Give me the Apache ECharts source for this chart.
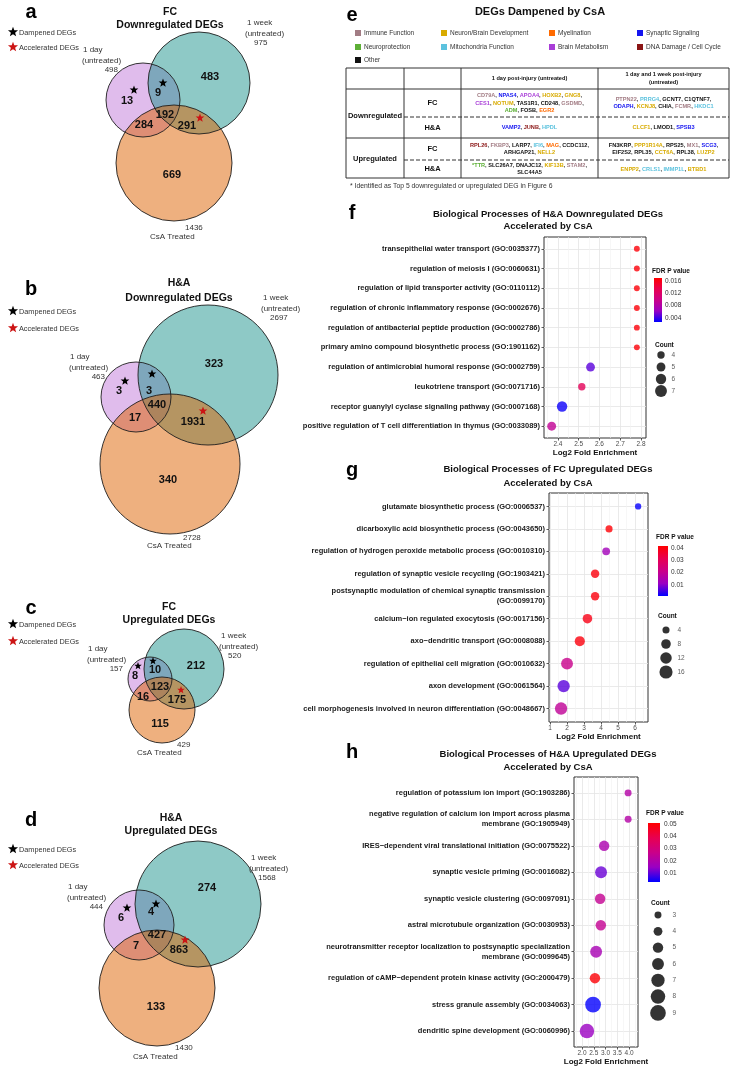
<!DOCTYPE html>
<html><head><meta charset="utf-8">
<script src="https://cdn.jsdelivr.net/npm/echarts@6.0.0/dist/echarts.min.js"></script>
<style>html,body{margin:0;padding:0;background:#fff;}#chart{width:734px;height:1070px;}</style>
</head><body><div id="chart"></div>
<script>
const FF = '"Liberation Sans", Arial, Helvetica, sans-serif';

/* ================= DATA ================= */
/* Venn panels a-d */
const vennLetters = ['a','b','c','d'];
const vennTissue = ['FC','H&A','FC','H&A'];
const vennDirection = ['Downregulated DEGs','Downregulated DEGs','Upregulated DEGs','Upregulated DEGs'];
const totalDay  = [498, 463, 157, 444];
const totalWeek = [975, 2697, 520, 1568];
const totalCsA  = [1436, 2728, 429, 1430];
const onlyDay    = [13, 3, 8, 6];
const dayAndWeek = [9, 3, 10, 4];
const onlyWeek   = [483, 323, 212, 274];
const allThree   = [192, 440, 123, 427];
const dayAndCsA  = [284, 17, 16, 7];
const weekAndCsA = [291, 1931, 175, 863];
const onlyCsA    = [669, 340, 115, 133];

/* Table e */
const geneCategories = ['Immune Function','Neuron/Brain Development','Myelination','Synaptic Signaling',
  'Neuroprotection','Mitochondria Function','Brain Metabolism','DNA Damage / Cell Cycle','Other'];
const tableHeaders = ['1 day post-injury (untreated)', '1 day and 1 week post-injury', '(untreated)'];
const tableDirections = ['Downregulated','Upregulated'];
const tableRegions = ['FC','H&A','FC','H&A'];
const downFcDay = [[['CD79A',0],['NPAS4',3],['APOA4',6],['HOXB2',1],['GNG8',1]],
                   [['CES1',6],['NOTUM',1],['TAS1R1',8],['CD248',8],['GSDMD',0]],
                   [['ADM',4],['FOSB',8],['EGR2',2]]];
const downFcBoth = [[['PTPN22',0],['PRRG4',5],['GCNT7',8],['C1QTNF7',8]],
                    [['ODAPH',3],['KCNJ8',1],['CHIA',8],['FCMR',0],['HKDC1',5]]];
const downHaDay = [[['VAMP2',3],['JUNB',7],['HPDL',5]]];
const downHaBoth = [[['CLCF1',1],['LMOD1',8],['SPSB3',3]]];
const upFcDay = [[['RPL26',7],['FKBP3',0],['LARP7',8],['IFI6',5],['MAG',2],['CCDC112',8]],
                 [['ARHGAP21',8],['NELL2',1]]];
const upFcBoth = [[['FN3KRP',8],['PPP1R14A',1],['RPS25',8],['MX1',0],['SCG3',3]],
                  [['EIF2S2',8],['RPL35',8],['CCT6A',1],['RPL38',8],['LUZP2',1]]];
const upHaDay = [[['*TTR',4],['SLC26A7',8],['DNAJC12',8],['KIF13B',1],['STAM2',0]],
                 [['SLC44A5',8]]];
const upHaBoth = [[['ENPP2',1],['CRLS1',5],['IMMP1L',5],['BTBD1',1]]];
const footnote = '* Identified as Top 5 downregulated or upregulated DEG in Figure 6';

/* Panel f */
const fTerms = ['transepithelial water transport (GO:0035377)','regulation of meiosis I (GO:0060631)',
  'regulation of lipid transporter activity (GO:0110112)','regulation of chronic inflammatory response (GO:0002676)',
  'regulation of antibacterial peptide production (GO:0002786)','primary amino compound biosynthetic process (GO:1901162)',
  'regulation of antimicrobial humoral response (GO:0002759)','leukotriene transport (GO:0071716)',
  'receptor guanylyl cyclase signaling pathway (GO:0007168)','positive regulation of T cell differentiation in thymus (GO:0033089)'];
const fEnrich = [2.78, 2.78, 2.78, 2.78, 2.78, 2.78, 2.557, 2.515, 2.42, 2.37];
const fFdr    = [0.0166, 0.0166, 0.0166, 0.0166, 0.0166, 0.0166, 0.0048, 0.0130, 0.0030, 0.0092];
const fCount  = [3, 3, 3, 3, 3, 3, 5, 4, 6, 5];
const fXTicks = [2.4, 2.5, 2.6, 2.7, 2.8];
const fFdrTicks = [0.004, 0.008, 0.012, 0.016];
const fCountBreaks = [4, 5, 6, 7];

/* Panel g */
const gTerms = ['glutamate biosynthetic process (GO:0006537)','dicarboxylic acid biosynthetic process (GO:0043650)',
  'regulation of hydrogen peroxide metabolic process (GO:0010310)','regulation of synaptic vesicle recycling (GO:1903421)',
  'postsynaptic modulation of chemical synaptic transmission\n(GO:0099170)','calcium\u2212ion regulated exocytosis (GO:0017156)',
  'axo\u2212dendritic transport (GO:0008088)','regulation of epithelial cell migration (GO:0010632)',
  'axon development (GO:0061564)','cell morphogenesis involved in neuron differentiation (GO:0048667)'];
const gEnrich = [6.18, 4.47, 4.30, 3.65, 3.65, 3.20, 2.75, 2.00, 1.80, 1.65];
const gFdr    = [0.0015, 0.041, 0.013, 0.040, 0.040, 0.039, 0.040, 0.021, 0.007, 0.019];
const gCount  = [3, 4, 5, 6, 6, 8, 9, 13, 14, 14];
const gXTicks = [1, 2, 3, 4, 5, 6];
const gFdrTicks = [0.01, 0.02, 0.03, 0.04];
const gCountBreaks = [4, 8, 12, 16];

/* Panel h */
const hTerms = ['regulation of potassium ion import (GO:1903286)',
  'negative regulation of calcium ion import across plasma\nmembrane (GO:1905949)',
  'IRES\u2212dependent viral translational initiation (GO:0075522)','synaptic vesicle priming (GO:0016082)',
  'synaptic vesicle clustering (GO:0097091)','astral microtubule organization (GO:0030953)',
  'neurotransmitter receptor localization to postsynaptic specialization\nmembrane (GO:0099645)',
  'regulation of cAMP\u2212dependent protein kinase activity (GO:2000479)','stress granule assembly (GO:0034063)',
  'dendritic spine development (GO:0060996)'];
const hEnrich = [3.96, 3.96, 2.94, 2.81, 2.77, 2.80, 2.60, 2.55, 2.47, 2.21];
const hFdr    = [0.021, 0.021, 0.019, 0.011, 0.025, 0.025, 0.018, 0.050, 0.003, 0.015];
const hCount  = [3, 3, 5, 6, 5, 5, 6, 5, 9, 8];
const hXTicks = [2.0, 2.5, 3.0, 3.5, 4.0];
const hFdrTicks = [0.01, 0.02, 0.03, 0.04, 0.05];
const hCountBreaks = [3, 4, 5, 6, 7, 8, 9];

/* ================= STYLE / LAYOUT ================= */
const catColors = ['#a27c84','#d8ab00','#ff6a00','#1414f0','#5daf36','#5cc2de','#a93ed8','#8a1515','#111111'];
const RAMP = ['#0000FF','#9A00C3','#CA0089','#E80050','#FF0000'];
const CBAR_STOPS = [{offset:0,color:'#FF0000'},{offset:0.25,color:'#E80050'},{offset:0.5,color:'#CA0089'},{offset:0.75,color:'#9A00C3'},{offset:1,color:'#0000FF'}];
const sizeF = c => 1.4 + 1.5 * c;
const sizeG = c => 1.1 + 3.0 * Math.sqrt(c);
const sizeH = c => -4.9 + 6.86 * Math.sqrt(c);

const vennGeom = [
  {day:[143,100,37], week:[199,83,51], csa:[174,163,58], tx:170,
   t1:12, t2:25, leg:[32,47], letter:12,
   reg:[[127,101],[158,93],[210,77],[165,115],[144,125],[187,126],[172,175]],
   stars:[[134,90],[163,83],[200,118]], sr:4.6,
   dayLab:[83,50], weekLab:[247,23], csaNum:[185,228], csaName:[150,237]},
  {day:[136,397,35], week:[208,375,70], csa:[170,464,70], tx:179,
   t1:283, t2:298, leg:[311,328], letter:289,
   reg:[[119,391],[149,391],[214,364],[157,405],[135,418],[193,422],[168,480]],
   stars:[[125,381],[152,374],[203,411]], sr:4.6,
   dayLab:[70,357], weekLab:[263,298], csaNum:[183,538], csaName:[147,546]},
  {day:[150,679,22], week:[184,669,40], csa:[162,710,33], tx:169,
   t1:607, t2:620, leg:[624,641], letter:608,
   reg:[[135,676],[155,670],[196,666],[160,687],[143,697],[177,700],[160,724]],
   stars:[[138,666],[153,661],[181,690]], sr:4.0,
   dayLab:[88,649], weekLab:[221,636], csaNum:[177,745], csaName:[137,753]},
  {day:[139,925,35], week:[198,904,63], csa:[157,988,58], tx:171,
   t1:818, t2:831, leg:[849,865], letter:820,
   reg:[[121,918],[151,912],[207,888],[157,935],[136,946],[179,950],[156,1007]],
   stars:[[127,908],[156,904],[185,940]], sr:4.6,
   dayLab:[68,887], weekLab:[251,858], csaNum:[175,1048], csaName:[133,1057]}
];

/* ================= GRAPHICS ================= */
const G = [];
function T(x, y, text, font, o) {
  G.push({type:'text', x:x, y:y, silent:true, z:20,
    style:Object.assign({text:text, font:font, fill:'#222', align:'left', verticalAlign:'middle'}, o || {})});
}
function star(cx, cy, R, fill) {
  const pts = [];
  for (let i = 0; i < 10; i++) {
    const a = -Math.PI / 2 + i * Math.PI / 5;
    const r = (i % 2) ? R * 0.42 : R;
    pts.push([cx + r * Math.cos(a), cy + r * Math.sin(a)]);
  }
  G.push({type:'polygon', silent:true, z:21, shape:{points:pts}, style:{fill:fill}});
}
const F = (w, s) => (w ? 'bold ' : '') + s + 'px ' + FF;

/* Venn diagrams */
vennGeom.forEach((g, p) => {
  const fills = ['rgba(193,121,217,0.5)','rgba(29,147,141,0.5)','rgba(221,97,0,0.5)'];
  [g.day, g.week, g.csa].forEach((c, k) => {
    G.push({type:'circle', silent:true, z:1, shape:{cx:c[0], cy:c[1], r:c[2]}, style:{fill:fills[k]}});
  });
  [g.day, g.week, g.csa].forEach(c => {
    G.push({type:'circle', silent:true, z:2, shape:{cx:c[0], cy:c[1], r:c[2]}, style:{fill:'none', stroke:'#1e1e1e', lineWidth:0.9}});
  });
  T(31, g.letter, vennLetters[p], F(1, 20), {align:'center', fill:'#000'});
  star(13, g.leg[0], 5.3, '#000');
  star(13, g.leg[1], 5.3, '#cc1414');
  T(19, g.leg[0] + 1, 'Dampened DEGs', F(0, 7.3), {fill:'#333'});
  T(19, g.leg[1] + 1, 'Accelerated DEGs', F(0, 7.3), {fill:'#333'});
  T(g.tx, g.t1, vennTissue[p], F(1, 10.5), {align:'center', fill:'#111'});
  T(g.tx, g.t2, vennDirection[p], F(1, 10.5), {align:'center', fill:'#111'});
  const vals = [onlyDay[p], dayAndWeek[p], onlyWeek[p], allThree[p], dayAndCsA[p], weekAndCsA[p], onlyCsA[p]];
  vals.forEach((v, k) => T(g.reg[k][0], g.reg[k][1], String(v), F(1, 11), {align:'center', fill:'#111'}));
  star(g.stars[0][0], g.stars[0][1], g.sr, '#000');
  star(g.stars[1][0], g.stars[1][1], g.sr, '#000');
  star(g.stars[2][0], g.stars[2][1], g.sr, '#cc1414');
  const dl = g.dayLab, wl = g.weekLab;
  T(dl[0], dl[1], '1 day', F(0, 8), {fill:'#333'});
  T(dl[0] - 1, dl[1] + 10.5, '(untreated)', F(0, 8), {fill:'#333'});
  T(dl[0] + 35, dl[1] + 20, String(totalDay[p]), F(0, 8), {fill:'#333', align:'right'});
  T(wl[0], wl[1], '1 week', F(0, 8), {fill:'#333'});
  T(wl[0] - 2, wl[1] + 10.5, '(untreated)', F(0, 8), {fill:'#333'});
  T(wl[0] + 7, wl[1] + 20, String(totalWeek[p]), F(0, 8), {fill:'#333'});
  T(g.csaNum[0], g.csaNum[1], String(totalCsA[p]), F(0, 8), {fill:'#333'});
  T(g.csaName[0], g.csaName[1], 'CsA Treated', F(0, 8), {fill:'#333'});
});

/* Right-column panel letters and titles */
T(352, 15, 'e', F(1, 20), {align:'center', fill:'#000'});
T(352, 213, 'f', F(1, 20), {align:'center', fill:'#000'});
T(352, 470, 'g', F(1, 20), {align:'center', fill:'#000'});
T(352, 752, 'h', F(1, 20), {align:'center', fill:'#000'});
T(540, 12, 'DEGs Dampened by CsA', F(1, 11), {align:'center', fill:'#111'});
T(548, 214, 'Biological Processes of H&A Downregulated DEGs', F(1, 9.5), {align:'center', fill:'#111'});
T(548, 226, 'Accelerated by CsA', F(1, 9.5), {align:'center', fill:'#111'});
T(548, 469, 'Biological Processes of FC Upregulated DEGs', F(1, 9.5), {align:'center', fill:'#111'});
T(548, 483, 'Accelerated by CsA', F(1, 9.5), {align:'center', fill:'#111'});
T(548, 754, 'Biological Processes of H&A Upregulated DEGs', F(1, 9.5), {align:'center', fill:'#111'});
T(548, 767, 'Accelerated by CsA', F(1, 9.5), {align:'center', fill:'#111'});

/* Table legend */
const legCols = [355, 441, 549, 637];
const legRows = [33, 47, 60];
geneCategories.forEach((name, i) => {
  const cx = legCols[i % 4], cy = legRows[Math.floor(i / 4)];
  G.push({type:'rect', silent:true, z:20, shape:{x:cx, y:cy - 3, width:6, height:6}, style:{fill:catColors[i]}});
  T(cx + 9, cy, name, F(0, 6.5), {fill:'#333'});
});

/* Table */
const colX = [346, 404, 461, 598, 729];
const rowY = [68, 89, 117, 138, 160, 178];
G.push({type:'rect', silent:true, z:20, shape:{x:colX[0], y:rowY[0], width:colX[4]-colX[0], height:rowY[5]-rowY[0]}, style:{fill:'none', stroke:'#333', lineWidth:1}});
[1,2,3].forEach(k => G.push({type:'line', silent:true, z:20, shape:{x1:colX[k], y1:rowY[0], x2:colX[k], y2:rowY[5]}, style:{stroke:'#333', lineWidth:1}}));
G.push({type:'line', silent:true, z:20, shape:{x1:colX[0], y1:rowY[1], x2:colX[4], y2:rowY[1]}, style:{stroke:'#333', lineWidth:1}});
G.push({type:'line', silent:true, z:20, shape:{x1:colX[0], y1:rowY[3], x2:colX[4], y2:rowY[3]}, style:{stroke:'#333', lineWidth:1}});
[2,4].forEach(k => G.push({type:'line', silent:true, z:20, shape:{x1:colX[1], y1:rowY[k], x2:colX[4], y2:rowY[k]}, style:{stroke:'#333', lineWidth:1, lineDash:[4,2]}}));
T((colX[2]+colX[3])/2, (rowY[0]+rowY[1])/2, tableHeaders[0], F(1, 5.6), {align:'center', fill:'#111'});
T((colX[3]+colX[4])/2, (rowY[0]+rowY[1])/2 - 4, tableHeaders[1], F(1, 5.6), {align:'center', fill:'#111'});
T((colX[3]+colX[4])/2, (rowY[0]+rowY[1])/2 + 4, tableHeaders[2], F(1, 5.6), {align:'center', fill:'#111'});
T((colX[0]+colX[1])/2, 116, tableDirections[0], F(1, 7.5), {align:'center', fill:'#111'});
T((colX[0]+colX[1])/2, 159, tableDirections[1], F(1, 7.5), {align:'center', fill:'#111'});
tableRegions.forEach((r, k) => T((colX[1]+colX[2])/2, (rowY[k+1]+rowY[k+2])/2, r, F(1, 7.5), {align:'center', fill:'#111'}));
const rich = {};
catColors.forEach((c, i) => { rich['c' + i] = {fill:c, font:F(1, 5.6)}; });
function geneCell(lines, col, row) {
  const cx = (colX[col] + colX[col+1]) / 2, cy = (rowY[row] + rowY[row+1]) / 2;
  lines.forEach((tok, k) => {
    let s = tok.map(t => '{c' + t[1] + '|' + t[0] + '}').join('{c8|, }');
    if (k < lines.length - 1) s += '{c8|,}';
    T(cx, cy + (k - (lines.length - 1) / 2) * 7.8, s, F(1, 5.6), {align:'center', rich:rich});
  });
}
geneCell(downFcDay, 2, 1); geneCell(downFcBoth, 3, 1);
geneCell(downHaDay, 2, 2); geneCell(downHaBoth, 3, 2);
geneCell(upFcDay, 2, 3);   geneCell(upFcBoth, 3, 3);
geneCell(upHaDay, 2, 4);   geneCell(upHaBoth, 3, 4);
T(350, 186, footnote, F(0, 6.8), {fill:'#333'});

/* Legend titles for f/g/h */
T(652, 271, 'FDR P value', F(1, 6.5), {fill:'#111'});
T(655, 345, 'Count', F(1, 6.5), {fill:'#111'});
T(656, 537, 'FDR P value', F(1, 6.5), {fill:'#111'});
T(658, 616, 'Count', F(1, 6.5), {fill:'#111'});
T(646, 813, 'FDR P value', F(1, 6.5), {fill:'#111'});
T(651, 903, 'Count', F(1, 6.5), {fill:'#111'});

/* ================= CHART OPTION ================= */
function mainX(gi, min, max, ticks, dec) {
  return {type:'value', gridIndex:gi, min:min, max:max, position:'bottom',
    axisLine:{show:false},
    axisTick:{show:true, customValues:ticks, length:2.5, lineStyle:{color:'#333', width:0.8}},
    axisLabel:{customValues:ticks, margin:3, fontSize:6.5, color:'#4d4d4d', formatter:v => v.toFixed(dec)},
    splitLine:{show:true, lineStyle:{color:'#e4e4e4', width:0.8}},
    name:'Log2 Fold Enrichment', nameLocation:'middle', nameGap:10,
    nameTextStyle:{fontSize:8, fontWeight:'bold', color:'#111'}};
}
function minorX(gi, min, max, ticks) {
  const mids = ticks.slice(0, -1).map((t, i) => (t + ticks[i+1]) / 2);
  mids.unshift(ticks[0] - (ticks[1]-ticks[0]) / 2);
  mids.push(ticks[ticks.length-1] + (ticks[1]-ticks[0]) / 2);
  return {type:'value', gridIndex:gi, min:min, max:max, position:'top',
    axisLine:{show:false}, axisTick:{show:false, customValues:mids}, axisLabel:{show:false},
    splitLine:{show:true, lineStyle:{color:'#f1f1f1', width:0.6}}};
}
function mainY(gi, labels) {
  const vals = labels.map((_, i) => i + 1);
  return {type:'value', gridIndex:gi, min:0.4, max:labels.length + 0.6, inverse:true,
    axisLine:{show:false},
    axisTick:{show:true, customValues:vals, length:2.5, lineStyle:{color:'#333', width:0.8}},
    axisLabel:{customValues:vals, margin:4, fontSize:7.5, fontWeight:'bold', color:'#1a1a1a', lineHeight:10,
      formatter:v => labels[Math.round(v) - 1]},
    splitLine:{show:true, lineStyle:{color:'#e4e4e4', width:0.8}}};
}
function cbarY(gi, lo, hi, ticks, dec, margin) {
  return {type:'value', gridIndex:gi, min:lo, max:hi, position:'right', z:10,
    axisLine:{show:false},
    axisTick:{show:true, inside:true, customValues:ticks, length:2, lineStyle:{color:'#fff', width:0.8}},
    axisLabel:{customValues:ticks, margin:margin, fontSize:6.5, color:'#333', formatter:v => v.toFixed(dec)},
    splitLine:{show:false}};
}
function cbarSeries(idx, lo, hi) {
  return {type:'custom', xAxisIndex:6 + idx, yAxisIndex:3 + idx, data:[[0, lo]], silent:true, clip:false, z:2,
    renderItem:(p, api) => {
      const a = api.coord([0, hi]), b = api.coord([1, lo]);
      return {type:'rect', shape:{x:a[0], y:a[1], width:b[0] - a[0], height:b[1] - a[1]},
        style:{fill:new echarts.graphic.LinearGradient(0, 0, 0, 1, CBAR_STOPS)}};
    }};
}
function countSeries(idx, breaks, sz) {
  return [
    {type:'scatter', xAxisIndex:9 + idx, yAxisIndex:6 + idx, silent:true, clip:false,
     data:breaks.map((c, i) => [0, i, c]), symbolSize:v => sz(v[2]), itemStyle:{color:'#000'}},
    {type:'scatter', xAxisIndex:9 + idx, yAxisIndex:6 + idx, silent:true, clip:false,
     data:breaks.map((c, i) => [1, i, c]), symbolSize:1, itemStyle:{color:'rgba(0,0,0,0)'},
     label:{show:true, position:'right', distance:0, formatter:p => String(p.value[2]), fontSize:6.5, color:'#333'}}
  ];
}
const pts = (e, f, c) => e.map((x, i) => [x, i + 1, f[i], c[i]]);
const cb = {f:[0.0027, 0.017], g:[0.0011, 0.0416], h:[0.0027, 0.0508]};
const gridBox = {show:true, borderColor:'#333', borderWidth:1, backgroundColor:'#fff'};

const option = {
  animation:false,
  textStyle:{fontFamily:FF},
  grid:[
    Object.assign({left:544, top:237, width:102, height:201}, gridBox),
    Object.assign({left:549, top:493, width:99, height:229}, gridBox),
    Object.assign({left:574, top:777, width:64, height:270}, gridBox),
    {left:654, top:278, width:8, height:44},
    {left:658, top:546, width:10, height:50},
    {left:648, top:823, width:12, height:59},
    {left:661, top:349, width:10, height:48},
    {left:666, top:623, width:11, height:56},
    {left:658, top:906.8, width:14, height:114.3}
  ],
  xAxis:[
    mainX(0, 2.333, 2.824, fXTicks, 1),
    mainX(1, 0.94, 6.76, gXTicks, 0),
    mainX(2, 1.66, 4.38, hXTicks, 1),
    minorX(0, 2.333, 2.824, fXTicks),
    minorX(1, 0.94, 6.76, gXTicks),
    minorX(2, 1.66, 4.38, hXTicks),
    {type:'value', gridIndex:3, min:0, max:1, show:false},
    {type:'value', gridIndex:4, min:0, max:1, show:false},
    {type:'value', gridIndex:5, min:0, max:1, show:false},
    {type:'value', gridIndex:6, min:0, max:1, show:false},
    {type:'value', gridIndex:7, min:0, max:1, show:false},
    {type:'value', gridIndex:8, min:0, max:1, show:false}
  ],
  yAxis:[
    mainY(0, fTerms), mainY(1, gTerms), mainY(2, hTerms),
    cbarY(3, cb.f[0], cb.f[1], fFdrTicks, 3, 3),
    cbarY(4, cb.g[0], cb.g[1], gFdrTicks, 2, 3),
    cbarY(5, cb.h[0], cb.h[1], hFdrTicks, 2, 4),
    {type:'value', gridIndex:6, min:-0.5, max:fCountBreaks.length - 0.5, inverse:true, show:false},
    {type:'value', gridIndex:7, min:-0.5, max:gCountBreaks.length - 0.5, inverse:true, show:false},
    {type:'value', gridIndex:8, min:-0.5, max:hCountBreaks.length - 0.5, inverse:true, show:false}
  ],
  visualMap:[
    {type:'continuous', show:false, seriesIndex:0, dimension:2, min:cb.f[0], max:cb.f[1], inRange:{color:RAMP}},
    {type:'continuous', show:false, seriesIndex:1, dimension:2, min:cb.g[0], max:cb.g[1], inRange:{color:RAMP}},
    {type:'continuous', show:false, seriesIndex:2, dimension:2, min:cb.h[0], max:cb.h[1], inRange:{color:RAMP}}
  ],
  series:[
    {type:'scatter', xAxisIndex:0, yAxisIndex:0, z:5, clip:false, data:pts(fEnrich, fFdr, fCount), symbolSize:v => sizeF(v[3])},
    {type:'scatter', xAxisIndex:1, yAxisIndex:1, z:5, clip:false, data:pts(gEnrich, gFdr, gCount), symbolSize:v => sizeG(v[3])},
    {type:'scatter', xAxisIndex:2, yAxisIndex:2, z:5, clip:false, data:pts(hEnrich, hFdr, hCount), symbolSize:v => sizeH(v[3])},
    cbarSeries(0, cb.f[0], cb.f[1]),
    cbarSeries(1, cb.g[0], cb.g[1]),
    cbarSeries(2, cb.h[0], cb.h[1])
  ].concat(countSeries(0, fCountBreaks, sizeF), countSeries(1, gCountBreaks, sizeG), countSeries(2, hCountBreaks, sizeH)),
  graphic:{elements:G}
};

const chart = echarts.init(document.getElementById('chart'), null, {renderer:'canvas'});
chart.setOption(option);
</script>
</body></html>
